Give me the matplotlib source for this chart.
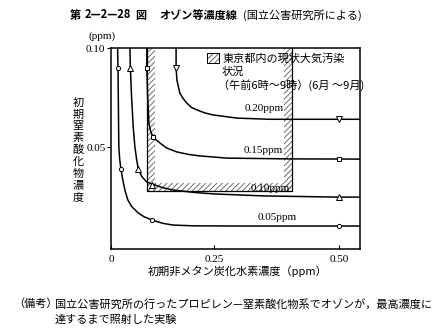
import numpy as np
import matplotlib
matplotlib.use("Agg")
import matplotlib.pyplot as plt
from matplotlib.patches import Rectangle

# ---- data (ppm) ----
# ozone isopleths: initial NMHC (x) vs initial NOx (y)
iso_labels = ["0.05ppm", "0.10ppm", "0.15ppm", "0.20ppm"]

iso005_x = [0.016, 0.017, 0.019, 0.021, 0.024, 0.028, 0.034, 0.041, 0.050, 0.066,
            0.080, 0.100, 0.125, 0.150, 0.200, 0.300, 0.400, 0.542]
iso005_y = [0.100, 0.090, 0.050, 0.044, 0.039, 0.034, 0.028, 0.0232, 0.0200, 0.0167,
            0.0148, 0.0131, 0.0115, 0.0106, 0.0102, 0.0101, 0.0101, 0.0101]

iso010_x = [0.046, 0.047, 0.050, 0.054, 0.058, 0.062, 0.066, 0.075, 0.087, 0.100,
            0.125, 0.150, 0.200, 0.250, 0.350, 0.500, 0.542]
iso010_y = [0.100, 0.090, 0.075, 0.060, 0.050, 0.044, 0.039, 0.035, 0.0323, 0.0313,
            0.0295, 0.0283, 0.0271, 0.0263, 0.0253, 0.0247, 0.0247]

iso015_x = [0.087, 0.087, 0.089, 0.092, 0.096, 0.102, 0.110, 0.119, 0.135, 0.160,
            0.190, 0.216, 0.276, 0.400, 0.542]
iso015_y = [0.100, 0.090, 0.075, 0.062, 0.058, 0.055, 0.0535, 0.052, 0.0495, 0.0475,
            0.0462, 0.0455, 0.0444, 0.0440, 0.0439]

iso020_x = [0.158, 0.158, 0.160, 0.167, 0.175, 0.184, 0.195, 0.209, 0.228, 0.248,
            0.296, 0.362, 0.450, 0.542]
iso020_y = [0.100, 0.090, 0.0838, 0.0773, 0.0745, 0.0722, 0.0700, 0.0687, 0.0672,
            0.0662, 0.0646, 0.0640, 0.0640, 0.0640]

# measured points on each isopleth
pts005_x = [0.017, 0.024, 0.100, 0.500]
pts005_y = [0.090, 0.039, 0.013, 0.0101]
pts010_x = [0.046, 0.066, 0.100, 0.500]
pts010_y = [0.090, 0.039, 0.031, 0.0247]
pts015_x = [0.087, 0.102, 0.500]
pts015_y = [0.090, 0.055, 0.0439]
pts020_x = [0.158, 0.500]
pts020_y = [0.090, 0.0640]

# current Tokyo conditions (06-09h, Jun-Sep)
region_x = [0.087, 0.406]
region_y = [0.028, 0.100]

x_ticks = [0, 0.25, 0.50]
x_ticklabels = ["0", "0.25", "0.50"]
y_ticks = [0.05, 0.10]
y_ticklabels = ["0.05", "0.10"]

# ---- style ----
plt.rcParams["font.family"] = ["Noto Sans CJK JP", "DejaVu Sans"]
plt.rcParams["hatch.linewidth"] = 0.6
SERIF = ["Liberation Serif", "DejaVu Serif"]
CJK = ["Noto Sans CJK JP", "DejaVu Sans"]
FS = 8

W, H = 432, 336
fig = plt.figure(figsize=(W / 100, H / 100), dpi=100)
fig.patch.set_facecolor("white")


def fx(px):
    return px / W


def fy(py):
    return 1 - py / H


ax = fig.add_axes([fx(111), fy(249), fx(360) - fx(111), fy(48) - fy(249)])

# hand-drawn-like abscissa spacing
_xs = [-1.0, 0.0, 0.25, 1.0]
_ps = [-412.0, 0.0, 103.0, 478.0]
ax.set_xscale("function",
              functions=(lambda v: np.interp(v, _xs, _ps),
                         lambda p: np.interp(p, _ps, _xs)))
ax.set_xlim(0, 0.542)
ax.set_ylim(-0.0015, 0.100)

curves = [
    (iso005_x, iso005_y, pts005_x, pts005_y, "o", 3.0),
    (iso010_x, iso010_y, pts010_x, pts010_y, "^", 4.0),
    (iso015_x, iso015_y, pts015_x, pts015_y, "s", 3.5),
    (iso020_x, iso020_y, pts020_x, pts020_y, "v", 4.0),
]
for cx, cy, mx, my, mk, ms in curves:
    ax.plot(cx, cy, color="black", lw=1.1, solid_capstyle="round", zorder=3)
    ax.plot(mx, my, ls="none", marker=mk, ms=ms, mfc="white", mec="black",
            mew=0.7, zorder=4)

# hatched band along the inside of the region outline
x0, x1 = region_x
y0, y1 = region_y
band_l, band_r, band_b = 0.019, 0.016, 0.0040
hatch_kw = dict(fill=False, hatch="//////", edgecolor="0.35", lw=0, zorder=2)
ax.add_patch(Rectangle((x0, y0), band_l, y1 + 0.01 - y0, **hatch_kw))
ax.add_patch(Rectangle((x1 - band_r, y0), band_r, y1 + 0.01 - y0, **hatch_kw))
ax.add_patch(Rectangle((x0, y0), x1 - x0, band_b, **hatch_kw))
ax.plot([x0, x0, x1, x1], [y1 + 0.01, y0, y0, y1 + 0.01], color="black",
        lw=0.9, zorder=2, clip_on=True)

# legend for the region
ax.add_patch(Rectangle((0.386, 0.925), 0.046, 0.050, transform=ax.transAxes,
                       fill=False, hatch="//////", edgecolor="0.3", lw=0,
                       zorder=5))
ax.add_patch(Rectangle((0.386, 0.925), 0.046, 0.050, transform=ax.transAxes,
                       fill=False, edgecolor="black", lw=0.7, zorder=5))
ax.text(0.446, 0.950, "東京都内の現状大気汚染", transform=ax.transAxes,
        ha="left", va="center", fontsize=FS, family=CJK, zorder=6)
ax.text(0.446, 0.881, "状況", transform=ax.transAxes,
        ha="left", va="center", fontsize=FS, family=CJK, zorder=6)
ax.text(0.430, 0.816, "（午前6時～9時）(6月 ～9月)", transform=ax.transAxes,
        ha="left", va="center", fontsize=FS, family=CJK, zorder=6)

# isopleth labels
label_pos = [(0.416, 0.0146), (0.402, 0.0293), (0.388, 0.0480), (0.390, 0.0697)]
for lab, (lx, ly) in zip(iso_labels, label_pos):
    ax.text(lx, ly, lab, ha="right", va="center", fontsize=FS, family=SERIF,
            zorder=6)

# axes & ticks
for s in ax.spines.values():
    s.set_linewidth(1.1)
ax.set_xticks(x_ticks)
ax.set_xticklabels(x_ticklabels, family=SERIF, fontsize=FS)
ax.set_yticks(y_ticks)
ax.set_yticklabels(y_ticklabels, family=SERIF, fontsize=FS)
ax.tick_params(axis="x", direction="in", length=3, width=0.8, pad=4)
ax.tick_params(axis="y", direction="out", length=3, width=0.8, pad=1)
ax.minorticks_off()

fig.text(fx(102), fy(36), "(ppm)", ha="center", va="center", fontsize=FS,
         family=SERIF)

# vertical y-axis title
ylab = "初期窒素酸化物濃度"
for i, ch in enumerate(ylab):
    fig.text(fx(78), fy(103 + i * 11.75), ch, ha="center", va="center",
             fontsize=FS, family=CJK)

fig.text(fx(238), fy(271), "初期非メタン炭化水素濃度（ppm）", ha="center",
         va="center", fontsize=FS, family=CJK)

# title
title_kw = dict(va="center", fontsize=FS, family=CJK)
fig.text(fx(70), fy(15), "第", ha="left", fontweight="bold", **title_kw)
fig.text(fx(85), fy(15), "2—2—28", ha="left", fontweight="bold", **title_kw)
fig.text(fx(135), fy(15), "図", ha="left", fontweight="bold", **title_kw)
fig.text(fx(159), fy(15), "オゾン等濃度線", ha="left", fontweight="bold",
         **title_kw)
fig.text(fx(243), fy(15), "(国立公害研究所による)", ha="left", **title_kw)

# footnote
fig.text(fx(13), fy(304), "（備考）", ha="left", va="center", fontsize=FS,
         family=CJK)
fig.text(fx(55), fy(304),
         "国立公害研究所の行ったプロピレン—窒素酸化物系でオゾンが，最高濃度に",
         ha="left", va="center", fontsize=FS, family=CJK)
fig.text(fx(55), fy(320), "達するまで照射した実験", ha="left", va="center",
         fontsize=FS, family=CJK)

fig.savefig("out.png", dpi=100, facecolor="white")
